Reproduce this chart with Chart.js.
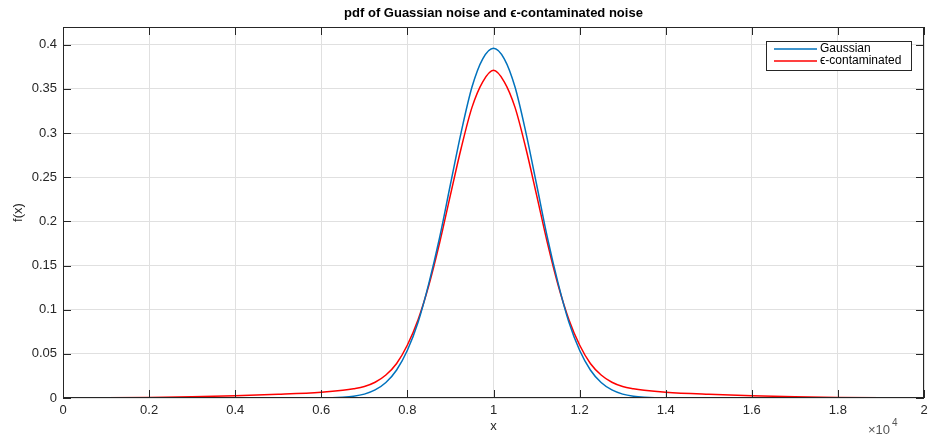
<!DOCTYPE html>
<html>
<head>
<meta charset="utf-8">
<script src="https://cdn.jsdelivr.net/npm/chart.js@4"></script>
<style>
  body { margin: 0; background: #fff; }
</style>
</head>
<body>
<canvas id="myChart" width="929" height="437"></canvas>
<script>
// x in units of 10^4
let xs = [0, 0.1, 0.2, 0.3, 0.4, 0.5, 0.6, 0.65, 0.675, 0.7, 0.725, 0.75, 0.775, 0.8, 0.825, 0.85, 0.875, 0.9, 0.925, 0.95, 0.975, 1.0,
  1.025, 1.05, 1.075, 1.1, 1.125, 1.15, 1.175, 1.2, 1.225, 1.25, 1.275, 1.3, 1.325, 1.35, 1.4, 1.5, 1.6, 1.7, 1.8, 1.9, 2.0];

let gaussian = [0, 0, 0, 0, 0, 0, 0.0001, 0.0009, 0.002, 0.0044, 0.0091, 0.0175, 0.0317, 0.054, 0.086, 0.130, 0.182, 0.242, 0.301, 0.352, 0.384, 0.396,
  0.384, 0.352, 0.301, 0.242, 0.182, 0.130, 0.086, 0.054, 0.0317, 0.0175, 0.0091, 0.0044, 0.002, 0.0009, 0.0001, 0, 0, 0, 0, 0, 0];

let contaminated = [0.0002, 0.0003, 0.0007, 0.0014, 0.0025, 0.0042, 0.0066, 0.0088, 0.0105, 0.013, 0.0178, 0.026, 0.039, 0.060, 0.089, 0.128, 0.176, 0.230, 0.283, 0.329, 0.358, 0.371,
  0.358, 0.329, 0.283, 0.230, 0.176, 0.128, 0.089, 0.060, 0.039, 0.026, 0.0178, 0.013, 0.0105, 0.0088, 0.0066, 0.0042, 0.0025, 0.0014, 0.0007, 0.0003, 0.0002];

let seriesNames = ['Gaussian', '\u03F5-contaminated'];
let seriesColors = ['#0072BD', '#FF0000'];

let ctx = document.getElementById('myChart').getContext('2d');
let FONT = '"Liberation Sans", Arial, Helvetica, sans-serif';
let INK = '#262626';

function pts(ys) {
  return xs.map((x, i) => ({ x: x, y: ys[i] }));
}

let deco = {
  id: 'deco',
  afterDraw(chart) {
    let c = chart.ctx;
    let a = chart.chartArea;
    let xS = chart.scales.x, yS = chart.scales.y;
    c.save();
    // box
    c.strokeStyle = INK;
    c.lineWidth = 1;
    c.strokeRect(a.left + 0.5, a.top + 0.5, a.right - a.left - 1, a.bottom - a.top - 1);
    // inward ticks
    c.beginPath();
    xS.ticks.forEach(t => {
      let px = Math.round(xS.getPixelForValue(t.value)) + 0.5;
      c.moveTo(px, a.bottom); c.lineTo(px, a.bottom - 8);
      c.moveTo(px, a.top); c.lineTo(px, a.top + 8);
    });
    yS.ticks.forEach(t => {
      let py = Math.round(yS.getPixelForValue(t.value)) + 0.5;
      c.moveTo(a.left, py); c.lineTo(a.left + 8, py);
      c.moveTo(a.right, py); c.lineTo(a.right - 8, py);
    });
    c.stroke();

    // title
    c.fillStyle = '#000';
    c.font = 'bold 13px ' + FONT;
    c.textAlign = 'center';
    c.textBaseline = 'middle';
    c.fillText('pdf of Guassian noise and \u03F5-contaminated noise', (a.left + a.right) / 2, 13);

    // axis labels
    c.fillStyle = INK;
    c.font = '13px ' + FONT;
    c.fillText('x', (a.left + a.right) / 2, 426);
    c.save();
    c.translate(18, (a.top + a.bottom) / 2);
    c.rotate(-Math.PI / 2);
    c.fillText('f(x)', 0, 0);
    c.restore();

    // exponent
    c.textAlign = 'left';
    c.fillStyle = '#555';
    c.fillText('\u00D710', 868, 430);
    c.font = '10px ' + FONT;
    c.fillText('4', 892, 423);

    // legend
    let lx = 766, ly = 41, lw = 145, lh = 29;
    c.fillStyle = '#fff';
    c.fillRect(lx, ly, lw, lh);
    c.strokeStyle = INK;
    c.strokeRect(lx + 0.5, ly + 0.5, lw, lh);
    c.font = '12px ' + FONT;
    c.textBaseline = 'middle';
    seriesNames.forEach((name, i) => {
      let yy = ly + 8 + i * 12;
      c.strokeStyle = seriesColors[i];
      c.lineWidth = 1.5;
      c.beginPath();
      c.moveTo(lx + 8, yy); c.lineTo(lx + 51, yy);
      c.stroke();
      c.fillStyle = '#000';
      c.fillText(name, lx + 54, yy);
    });
    c.restore();
  }
};

let myChart = new Chart(ctx, {
  type: 'line',
  data: {
    datasets: [
      {
        label: seriesNames[0],
        data: pts(gaussian),
        borderColor: seriesColors[0],
        borderWidth: 1.5,
        pointRadius: 0,
        cubicInterpolationMode: 'monotone',
        fill: false
      },
      {
        label: seriesNames[1],
        data: pts(contaminated),
        borderColor: seriesColors[1],
        borderWidth: 1.5,
        pointRadius: 0,
        cubicInterpolationMode: 'monotone',
        fill: false
      }
    ]
  },
  options: {
    responsive: false,
    animation: false,
    layout: { padding: { top: 27, right: 5, left: 0, bottom: 0 } },
    plugins: {
      legend: { display: false },
      title: { display: false },
      tooltip: { enabled: false }
    },
    scales: {
      x: {
        type: 'linear',
        min: 0,
        max: 2,
        border: { display: false },
        grid: { color: '#e0e0e0', drawTicks: false },
        ticks: {
          stepSize: 0.2,
          padding: 5,
          color: INK,
          font: { family: FONT, size: 13 },
          maxRotation: 0,
          callback: v => String(Number(v.toFixed(2)))
        },
        afterFit: s => { s.height = 39; s.paddingLeft = 0; s.paddingRight = 0; }
      },
      y: {
        min: 0,
        max: 0.42,
        border: { display: false },
        grid: { color: '#e0e0e0', drawTicks: false },
        ticks: {
          stepSize: 0.05,
          includeBounds: false,
          padding: 6,
          color: INK,
          font: { family: FONT, size: 13 },
          callback: v => String(Number(v.toFixed(2)))
        },
        afterFit: s => { s.width = 63; s.paddingTop = 0; s.paddingBottom = 0; }
      }
    }
  },
  plugins: [deco]
});
</script>
</body>
</html>
